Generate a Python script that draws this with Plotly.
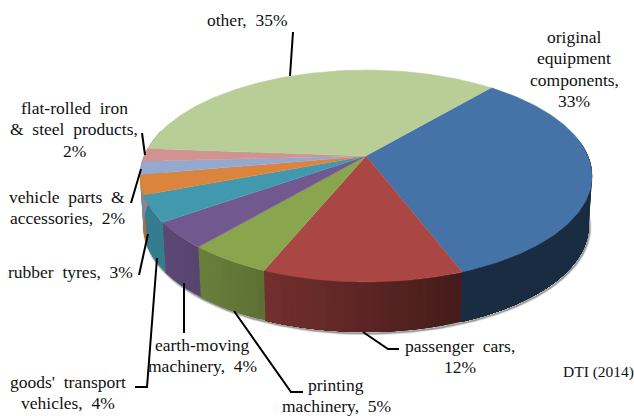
import numpy as np
import plotly.graph_objects as go

categories = ['original equipment components', 'passenger cars', 'printing machinery',
              'earth-moving machinery', "goods' transport vehicles", 'rubber tyres',
              'vehicle parts & accessories', 'flat-rolled iron & steel products', 'other']
shares = [33, 12, 5, 4, 4, 3, 2, 2, 35]
slice_colors = ['#4572A7', '#AA4643', '#89A54E', '#71588F', '#4198AF',
                '#DB843D', '#93A9CF', '#D19392', '#B9CD96']

label_text = ['original<br>equipment<br>components,<br>33%', 'passenger cars,<br>12%',
              'printing<br>machinery, 5%', 'earth-moving<br>machinery, 4%',
              "goods' transport<br>vehicles, 4%", 'rubber tyres, 3%',
              'vehicle parts &<br>accessories, 2%', 'flat-rolled iron<br>& steel products,<br>2%',
              'other, 35%']
source_text = 'DTI (2014)'

# Label positions (centre x, y of first line) and leader lines, in pixels
label_x = [574, 459.5, 336, 202, 68, 70, 67, 74, 247]
label_y = [37, 346, 385, 345, 382, 272, 197, 108, 20]
LINE_PITCH = 21.3
leaders = [
    None,
    [(363, 332), (388, 349), (399, 349)],
    [(234, 311), (291, 392), (303, 392)],
    [(184, 283), (184, 333)],
    [(157, 258), (147, 387), (135, 387)],
    [(148, 234), (139, 275)],
    [(141, 169), (131, 203)],
    [(145, 155), (142, 133)],
    [(290, 76), (293, 32)],
]

# Perspective disc: apex position, radii, tilt and rim depth
APEX_X, APEX_Y = 366, 156
RADIUS_X, RADIUS_Y = 222, 102.2
TILT = 0.1887
DEPTH = 50
BOTTOM_SCALE = 0.985
FIRST_ANGLE = 40.3
FONT = 'Liberation Serif'


def project(theta):
    """Clockwise degrees from the top of the disc to page pixels."""
    t = np.radians(theta)
    u, v = np.sin(t), np.cos(t)
    w = 1 + TILT * v
    return APEX_X + RADIUS_X * u / w, APEX_Y - RADIUS_Y * v / w


def project_bottom(theta):
    x, y = project(theta)
    return APEX_X + (x - APEX_X) * BOTTOM_SCALE, y + DEPTH


def shade(color, x):
    # rim gets darker towards the right
    f = np.clip(0.82 - (x - 165) * 0.0014, 0.39, 0.82)
    r, g, b = [int(color[i:i + 2], 16) for i in (1, 3, 5)]
    return f'rgb({int(r * f)},{int(g * f)},{int(b * f)})'


fig = go.Figure()

edges = FIRST_ANGLE + np.cumsum([0] + shares) * 3.6

# soft shadow under the rim
arc = np.linspace(92, 278, 160)
sx, sy = project_bottom(arc)
for width, alpha in [(4, 0.12), (2.5, 0.2), (1.5, 0.3)]:
    fig.add_trace(go.Scatter(x=sx + 1, y=sy + 1.5, mode='lines', hoverinfo='skip',
                             line=dict(color=f'rgba(60,60,60,{alpha})', width=width)))

# rim, drawn in short overlapping steps so the shading runs along it without seams
for i, color in enumerate(slice_colors):
    lo, hi = max(edges[i], 80), min(edges[i + 1], 285)
    if hi <= lo:
        continue
    steps = np.linspace(lo, hi, int((hi - lo) / 2) + 2)
    for s0, s1 in zip(steps[:-1], steps[1:]):
        x_mid = project((s0 + s1) / 2)[0]
        # each step runs on to the end of the slice, the next one paints over it
        a = np.linspace(s0, hi, 40)
        tx, ty = project(a)
        bx, by = project_bottom(a[::-1])
        fig.add_trace(go.Scatter(x=np.r_[tx, bx], y=np.r_[ty, by], fill='toself', mode='none',
                                 fillcolor=shade(color, x_mid), hoverinfo='skip'))

# top face
for i, color in enumerate(slice_colors):
    a = np.linspace(edges[i], edges[i + 1], max(int(shares[i] * 3.6), 4))
    ax, ay = project(a)
    fig.add_trace(go.Scatter(x=np.r_[APEX_X, ax], y=np.r_[APEX_Y, ay], fill='toself', mode='lines',
                             fillcolor=color, line=dict(color=color, width=0.5),
                             name=categories[i], text=f'{categories[i]}: {shares[i]}%', hoverinfo='text'))

# leader lines
for points in leaders:
    if points:
        fig.add_trace(go.Scatter(x=[p[0] for p in points], y=[p[1] for p in points], mode='lines',
                                 line=dict(color='black', width=2), hoverinfo='skip'))

# one annotation per line, the original has tighter leading and wide word gaps
for text, x, y in zip(label_text, label_x, label_y):
    for n, line in enumerate(text.split('<br>')):
        fig.add_annotation(x=x, y=y + n * LINE_PITCH, text=line.replace(' ', '\u00a0 '), showarrow=False,
                           xanchor='center', yanchor='middle',
                           font=dict(family=FONT, size=17.5, color='#111111'))
fig.add_annotation(x=598, y=372, text=source_text, showarrow=False,
                   font=dict(family=FONT, size=15.5, color='#111111'))

fig.update_layout(
    width=634, height=416,
    margin=dict(l=0, r=0, t=0, b=0),
    paper_bgcolor='white', plot_bgcolor='white',
    showlegend=False,
    xaxis=dict(range=[0, 634], visible=False, fixedrange=True),
    yaxis=dict(range=[416, 0], visible=False, fixedrange=True),
)

fig.write_html("out.html", config=dict(displayModeBar=False),
               post_script="document.body.style.margin='0';")
